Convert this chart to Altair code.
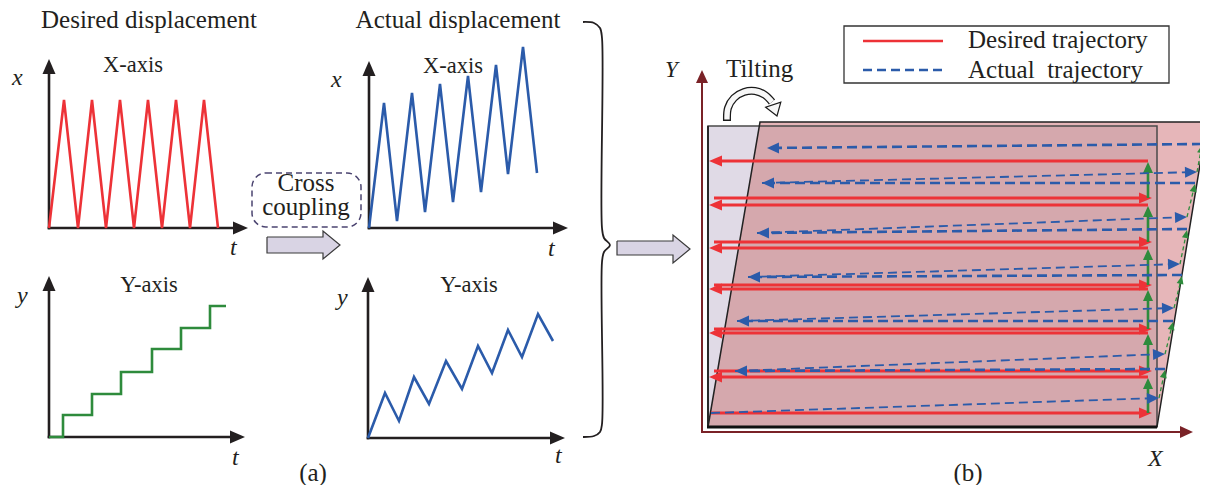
import math
import altair as alt
import pandas as pd

# ================= values =================
# Panel (a): each sub-plot in local units (t = time from origin, v = displacement above origin)
des_x_t = [0, 15, 29, 43, 57, 71, 85, 99, 113, 127, 141, 155, 169]
des_x_v = [0, 128, 0, 128, 0, 128, 0, 128, 0, 128, 0, 128, 0]
des_y_t = [0, 14, 14, 43, 43, 72, 72, 103, 103, 132, 132, 161, 161, 177]
des_y_v = [0, 0, 22, 22, 43, 43, 65, 65, 88, 88, 109, 109, 131, 131]
act_x_t = [0, 15, 28, 43, 56, 71, 84, 99, 112, 127, 139, 154, 168]
act_x_v = [0, 125, 7, 135, 16, 144, 26, 152, 36, 163, 54, 181, 55]
act_y_t = [0, 17, 31, 46, 61, 78, 94, 110, 124, 140, 154, 170, 185]
act_y_v = [0, 45, 17, 61, 34, 77, 49, 92, 65, 108, 81, 124, 97]

# Panel (b): local (X, Y) measured from the work area's lower-left corner
work_X = [0, 449]
work_Y = [0, 301]
tilt_Y = [0, 305]
tilt_left_X = [0, 52]
tilt_right_X = [449, 499]
des_right_Y = [14, 56, 98, 142, 185, 229]
des_right_X0 = [3, 6, 6, 6, 6, 6]
des_left_Y = [50, 94, 138, 179, 222, 266]
des_left_tip_X = 1
des_right_tip_X = 444
des_turn_X = 440
act_right_X0 = [3, 27, 29, 40, 49, 54]
act_right_Y0 = [14, 56, 106, 150, 194, 244]
act_right_X1 = [451, 457, 466, 472, 479, 489]
act_right_Y1 = [29, 73, 119, 163, 210, 255]
act_left_X0 = [457, 465, 474, 479, 487, 494]
act_left_Y0 = [58, 106, 152, 198, 244, 283]
act_left_X1 = [27, 29, 40, 49, 54, 59]
act_left_Y1 = [56, 106, 150, 194, 244, 279]

# ================= styling / layout =================
FONT = "Liberation Serif"
INK = "#231F20"
RED = "#ED3237"
BLUE = "#2B5BAA"
GREEN = "#2E8B3C"
DARKRED = "#7A2227"
LAV = "#E0DAE6"
PINK_L = "#E6B6B9"
PINK_D = "#D5A8AD"
ARROW_FILL = "#D9D4E4"

W, H = 1192, 477
XS = alt.Scale(domain=[8, 1200], nice=False, zero=False)
YS = alt.Scale(domain=[485, 8], nice=False, zero=False)


def X(f="x"):
    return alt.X(f + ":Q", scale=XS, axis=None)


def Y(f="y"):
    return alt.Y(f + ":Q", scale=YS, axis=None)


layers = []


def seg_df(segs):
    rows = []
    for k, pts in enumerate(segs):
        for i, (x, y) in enumerate(pts):
            rows.append({"x": x, "y": y, "seg": k, "i": i})
    return pd.DataFrame(rows)


def add_lines(segs, color, width, dash=None, interp="linear", cap="butt", join="miter"):
    kw = dict(color=color, strokeWidth=width, interpolate=interp, strokeCap=cap,
              strokeJoin=join, strokeMiterLimit=3)
    if dash:
        kw["strokeDash"] = dash
    layers.append(alt.Chart(seg_df(segs)).mark_line(**kw).encode(
        x=X(), y=Y(), detail="seg:N", order="i:Q"))


def add_rect(x0, x1, y0, y1, **mk):
    df = pd.DataFrame({"x": [x0], "x2": [x1], "y": [y0], "y2": [y1]})
    layers.append(alt.Chart(df).mark_rect(**mk).encode(
        x=X(), x2=alt.X2("x2:Q"), y=Y(), y2=alt.Y2("y2:Q")))


def add_hband(ys, xl, xr, color):
    df = pd.DataFrame({"y": ys, "x": xl, "x2": xr})
    layers.append(alt.Chart(df).mark_area(orient="horizontal", color=color, opacity=1).encode(
        y=Y(), x=X(), x2=alt.X2("x2:Q")))


def add_vband(xs, yt, yb, color):
    df = pd.DataFrame({"x": xs, "y": yt, "y2": yb})
    layers.append(alt.Chart(df).mark_area(orient="vertical", color=color, opacity=1).encode(
        x=X(), y=Y(), y2=alt.Y2("y2:Q")))


def add_heads(items, color, length, half_w, stroke=None, sw=0):
    rows = []
    for tx, ty, fx, fy in items:
        dx, dy = tx - fx, ty - fy
        n = math.hypot(dx, dy)
        ux, uy = dx / n, dy / n
        rows.append({"x": tx - ux * length / 2, "y": ty - uy * length / 2,
                     "a": math.degrees(math.atan2(ux, -uy)) % 360})
    hw = round(half_w / (length / 2), 3)
    shape = f"M0,-1L{hw},1L{-hw},1Z"
    kw = dict(shape=shape, filled=True, size=length ** 2, opacity=1, fill=color)
    if stroke:
        kw["stroke"] = stroke
        kw["strokeWidth"] = sw
    else:
        kw["strokeWidth"] = 0
    layers.append(alt.Chart(pd.DataFrame(rows)).mark_point(**kw).encode(
        x=X(), y=Y(), angle=alt.Angle("a:Q", scale=None)))


def add_text(txt, x, y, align="left", size=25, italic=False, color=INK):
    df = pd.DataFrame({"x": [x], "y": [y], "t": [txt]})
    kw = dict(align=align, baseline="alphabetic", font=FONT, fontSize=size, color=color)
    if italic:
        kw["fontStyle"] = "italic"
    layers.append(alt.Chart(df).mark_text(**kw).encode(x=X(), y=Y(), text="t:N"))


def shorten(p0, p1, d):
    dx, dy = p1[0] - p0[0], p1[1] - p0[1]
    n = math.hypot(dx, dy)
    return (p1[0] - dx / n * d, p1[1] - dy / n * d)


def block_arrow(x0, xb, tip, body, head):
    tx, ty = tip
    add_rect(x0, xb + 0.5, body[0], body[1], color=ARROW_FILL)
    add_vband([xb, tx], [head[0], ty], [head[1], ty], ARROW_FILL)
    add_lines([[(x0, body[0]), (xb, body[0]), (xb, head[0]), (tx, ty), (xb, head[1]),
                (xb, body[1]), (x0, body[1]), (x0, body[0])]], "#3A3A3A", 1.2)


# ================= panel (a) =================
subplots = [
    dict(o=(49, 228), up=169, right=199, t=des_x_t, v=des_x_v, color=RED),
    dict(o=(49, 437), up=161, right=196, t=des_y_t, v=des_y_v, color=GREEN),
    dict(o=(369, 228), up=167, right=199, t=act_x_t, v=act_x_v, color=BLUE),
    dict(o=(368, 438), up=161, right=197, t=act_y_t, v=act_y_v, color=BLUE),
]
ax_segs, ax_heads = [], []
for sp in subplots:
    ox, oy = sp["o"]
    ax_segs.append([(ox, oy + 1.3), (ox, oy - sp["up"] + 10)])
    ax_segs.append([(ox - 1.3, oy), (ox + sp["right"] - 10, oy)])
    ax_heads.append((ox, oy - sp["up"], ox, oy))
    ax_heads.append((ox + sp["right"], oy, ox, oy))
add_lines(ax_segs, INK, 2.6)
add_heads(ax_heads, INK, 15, 6.5)
for sp in subplots:
    ox, oy = sp["o"]
    add_lines([[(ox + t, oy - v) for t, v in zip(sp["t"], sp["v"])]], sp["color"], 2.6)

# cross-coupling box and arrow
add_rect(252, 361, 173, 227, fill="white", fillOpacity=0, stroke="#4B4470",
         strokeWidth=1.5, strokeDash=[6, 4], cornerRadius=14)
block_arrow(267, 323, (340, 245), (237, 253), (231, 259))

# brace
brace = [(583, 22), (594, 23), (600, 28), (602, 38), (602, 228), (604, 238), (610, 245),
         (604, 252), (602, 262), (602, 424), (600, 432), (594, 436), (583, 437)]
add_lines([brace], INK, 1.8, interp="catmull-rom", join="round")
block_arrow(617, 673, (690, 249), (241, 255), (235, 263))

# ================= panel (b) =================
BX, BY = 708, 427


def P(a, b):
    return (BX + a, BY - b)


add_hband([BY - y for y in tilt_Y], [BX + x for x in tilt_left_X],
          [BX + x for x in tilt_right_X], PINK_L)
add_rect(BX + work_X[0], BX + work_X[1], BY - work_Y[1], BY - work_Y[0], color=LAV)
left_at_top = tilt_left_X[0] + (tilt_left_X[1] - tilt_left_X[0]) * work_Y[1] / tilt_Y[1]
add_hband([BY - work_Y[0], BY - work_Y[1]], [BX + tilt_left_X[0], BX + left_at_top],
          [BX + work_X[1]] * 2, PINK_D)
add_rect(BX + work_X[0], BX + work_X[1], BY - work_Y[1], BY - work_Y[0], fill="white",
         fillOpacity=0, stroke="#4A4A4A", strokeWidth=1.5)
add_lines([[P(tilt_left_X[0], tilt_Y[0]), P(tilt_left_X[1], tilt_Y[1]),
            P(tilt_right_X[1], tilt_Y[1]), P(tilt_right_X[0], tilt_Y[0])]], "#222222", 1.5)
add_lines([[P(work_X[0], 0), P(work_X[0], work_Y[1])]], "#222222", 1.8)
add_lines([[P(work_X[0] - 1, 0), P(work_X[1], 0)]], "#111111", 3)

# axes of (b)
add_lines([[(702, 433), (702, 82)], [(701, 432), (1181, 432)]], DARKRED, 2)
add_heads([(702, 70, 702, 432), (1193, 432, 702, 432)], DARKRED, 13, 6)

# desired trajectory (red) + turns (green)
red_segs, red_heads = [], []
for x0, y in zip(des_right_X0, des_right_Y):
    red_segs.append([P(x0, y), P(des_right_tip_X - 10, y)])
    red_heads.append((*P(des_right_tip_X, y), *P(x0, y)))
for y in des_left_Y:
    red_segs.append([P(des_turn_X, y), P(des_left_tip_X + 10, y)])
    red_heads.append((*P(des_left_tip_X, y), *P(des_turn_X, y)))
add_lines(red_segs, RED, 2.8)
add_heads(red_heads, RED, 13, 5.5)

g_segs, g_heads = [], []
for y0, y1 in zip(des_right_Y, des_left_Y):
    g_segs.append([P(des_turn_X, y0), P(des_turn_X, y1 - 9)])
    g_heads.append((*P(des_turn_X, y1 - 1), *P(des_turn_X, y0)))
add_lines(g_segs, GREEN, 2.6)
add_heads(g_heads, GREEN, 11, 5)

# actual trajectory (blue)
b_right, b_left, b_heads = [], [], []
for x0, y0, x1, y1 in zip(act_right_X0, act_right_Y0, act_right_X1, act_right_Y1):
    p0, p1 = P(x0, y0), P(x1, y1)
    b_right.append([p0, shorten(p0, p1, 9)])
    b_heads.append((*p1, *p0))
for x0, y0, x1, y1 in zip(act_left_X0, act_left_Y0, act_left_X1, act_left_Y1):
    p0, p1 = P(x0, y0), P(x1, y1)
    b_left.append([p0, shorten(p0, p1, 9)])
    b_heads.append((*p1, *p0))
add_lines(b_right, BLUE, 1.8, dash=[9, 5])
add_lines(b_left, BLUE, 2.6, dash=[10, 5])
add_heads(b_heads, BLUE, 12, 5.5)

gd_segs, gd_heads = [], []
for x0, y0, x1, y1 in zip(act_right_X1, act_right_Y1, act_left_X0, act_left_Y0):
    p0, p1 = P(x0, y0), P(x1, y1 - 1)
    gd_segs.append([p0, shorten(p0, p1, 6)])
    gd_heads.append((*p1, *p0))
add_lines(gd_segs, GREEN, 1.3, dash=[4, 3])
add_heads(gd_heads, GREEN, 8, 3.5)

# tilting arrow
arc = [(727, 121), (728, 108), (734, 98), (744, 92), (755, 91), (765, 95), (772, 102)]
add_lines([arc], "#1A1A1A", 8, interp="catmull-rom", join="round")
add_lines([[(727, 119.5)] + arc[1:]], "#F7F7F7", 5.4, interp="catmull-rom", join="round")
add_heads([(777, 116, 773, 104)], "#F7F7F7", 12, 8, stroke="#1A1A1A", sw=1.2)

# legend
add_rect(844, 1169, 26, 83, fill="white", stroke="#333333", strokeWidth=1.3)
add_lines([[(863, 41), (943, 41)]], RED, 2.5)
add_lines([[(863, 70), (943, 70)]], BLUE, 2.5, dash=[9, 5])

# ================= texts =================
add_text("Desired displacement", 149, 28, "center", 25)
add_text("Actual displacement", 458, 28, "center", 25)
add_text("X-axis", 133, 72, "center", 22.5)
add_text("X-axis", 453, 73, "center", 22.5)
add_text("Y-axis", 149, 292, "center", 22.5)
add_text("Y-axis", 469, 292, "center", 22.5)
add_text("x", 12, 85, "left", 24, True)
add_text("x", 331, 87, "left", 24, True)
add_text("y", 17, 303, "left", 24, True)
add_text("y", 337, 305, "left", 24, True)
add_text("t", 230, 255, "left", 24, True)
add_text("t", 232, 465, "left", 24, True)
add_text("t", 548, 256, "left", 24, True)
add_text("t", 555, 463, "left", 24, True)
add_text("(a)", 313, 481, "center", 25)
add_text("Cross", 306, 191, "center", 25)
add_text("coupling", 306, 215, "center", 25)
add_text("Tilting", 726, 77, "left", 25)
add_text("Y", 665, 77, "left", 23, True)
add_text("X", 1148, 466, "left", 24, True)
add_text("(b)", 968, 481, "center", 25)
add_text("Desired trajectory", 968, 48, "left", 25)
add_text("Actual\u00a0\u00a0trajectory", 968, 78, "left", 25)

chart = alt.layer(*layers).properties(
    width=W, height=H, padding=0, autosize=alt.AutoSizeParams(type="none"),
    background="white",
).configure_view(stroke=None)

chart.save("out.html", embed_options={"renderer": "svg", "actions": False})
